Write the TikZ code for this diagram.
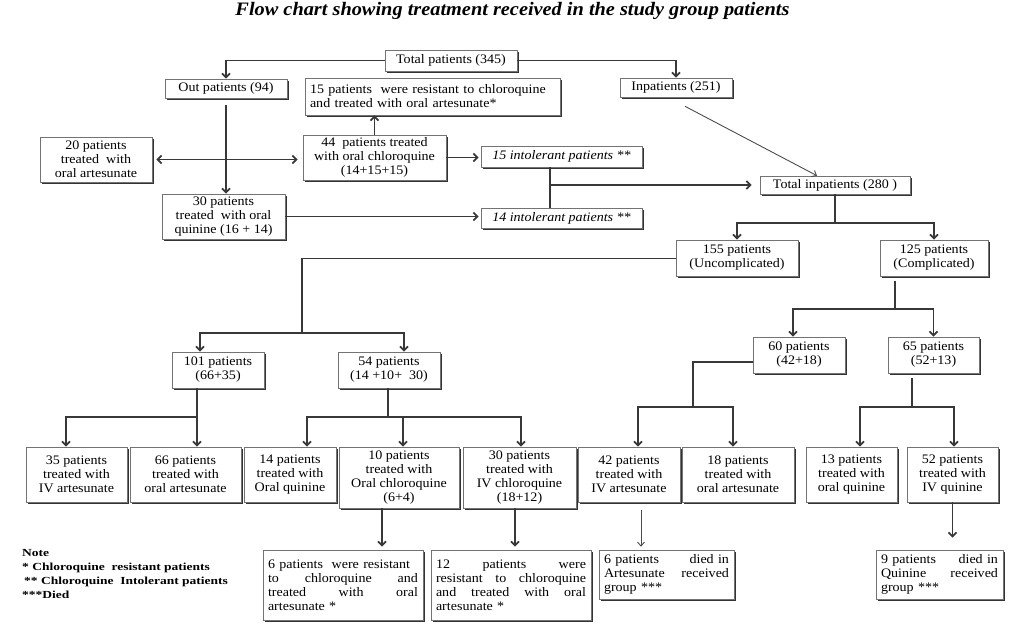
\documentclass[tikz,border=0pt]{standalone}
\usepackage{fontspec}
\setmainfont{Liberation Serif}[FakeStretch=1.08]
\newfontfamily\titlefont{Liberation Serif}[FakeStretch=1.07]
\newfontfamily\notefont{Liberation Serif}[FakeStretch=1.25]
\usetikzlibrary{arrows.meta,shadows}
\tikzset{
  box/.style={draw=black!55, line width=0.6pt, fill=white, align=center, inner sep=1pt,
    font=\fontsize{13}{14}\selectfont,
    drop shadow={shadow xshift=1.6pt, shadow yshift=-1.6pt, fill=black!80, opacity=1}},
  wh/.style 2 args={minimum width=#1pt, minimum height=#2pt},
  jbox/.style={box, align=left, inner xsep=5pt, text width=#1pt},
  conn/.style={draw=black!78, line width=1.8pt},
  arr/.style={conn, -{Straight Barb[length=4pt,width=8pt]}},
  thinarr/.style={draw=black!70, line width=0.9pt, -{Straight Barb[length=4pt,width=7pt]}},
}
\begin{document}
\begin{tikzpicture}[x=1pt,y=-1pt]
\useasboundingbox (0,0) rectangle (1023,626);
\node[anchor=base, font=\titlefont\bfseries\itshape\fontsize{19}{22}\selectfont] (title) at (512.5,16) {Flow chart showing treatment received in the study group patients};

% top level
\node[box, wh={132}{21}] (tot) at (451,60.5) {Total patients (345)};
\node[box, wh={122}{19}] (out) at (226,88.5) {Out patients (94)};
\node[jbox=245, minimum height=37pt] (res15) at (432.5,96.5) {15 patients~~were resistant to chloroquine\\and treated with oral artesunate*};
\node[box, wh={112}{19}] (inp) at (676,87.5) {Inpatients (251)};

\node[box, wh={112}{45}] (p20) at (96,159.5) {20 patients\\treated~ with\\oral artesunate};
\node[box, wh={143}{45}] (p44) at (374.5,157.5) {44~ patients treated\\with oral chloroquine\\(14+15+15)};
\node[box, wh={161}{21}, font=\fontsize{13}{14}\selectfont\itshape] (int15) at (561.5,156.5) {15 intolerant patients **};
\node[box, wh={150}{18}] (totin) at (835,185) {Total inpatients (280~)};
\node[box, wh={123}{45}] (p30) at (223.5,216.5) {30 patients\\treated~ with oral\\quinine (16 + 14)};
\node[box, wh={161}{20}, font=\fontsize{13}{14}\selectfont\itshape] (int14) at (561.5,218) {14 intolerant patients **};

\node[box, wh={122}{36}] (p155) at (737,258) {155 patients\\(Uncomplicated)};
\node[box, wh={108}{36}] (p125) at (934,258) {125 patients\\(Complicated)};
\node[box, wh={92}{36}] (p60) at (799,355) {60 patients\\(42+18)};
\node[box, wh={91}{36}] (p65) at (933.5,355) {65 patients\\(52+13)};
\node[box, wh={92}{36}] (p101) at (218,370) {101 patients\\(66+35)};
\node[box, wh={102}{36}] (p54) at (389,370) {54 patients\\(14 +10+~ 30)};

% bottom row
\node[box, wh={101}{55}] (b35) at (76.5,474.5) {35 patients\\treated with\\IV artesunate};
\node[box, wh={111}{55}] (b66) at (185.5,474.5) {66 patients\\treated with\\oral artesunate};
\node[box, wh={92}{55}] (b14) at (290,474.5) {14 patients\\treated with\\Oral quinine};
\node[box, wh={120}{61}] (b10) at (399,477.5) {10 patients\\treated with\\Oral chloroquine\\(6+4)};
\node[box, wh={113}{61}] (b30) at (519.5,477.5) {30 patients\\treated with\\IV chloroquine\\(18+12)};
\node[box, wh={102}{55}] (b42) at (629,474.5) {42 patients\\treated with\\IV artesunate};
\node[box, wh={112}{55}] (b18) at (738,474.5) {18 patients\\treated with\\oral artesunate};
\node[box, wh={91}{55}] (b13) at (851.5,474.5) {13 patients\\treated with\\oral quinine};
\node[box, wh={91}{55}] (b52) at (952.5,474.5) {52 patients\\treated with\\IV quinine};

% outcomes
\node[jbox=150, minimum height=70pt] (r6) at (343,585) {6 patients~ were resistant\\to\hfill chloroquine\hfill and\\treated\hfill with\hfill oral\\artesunate *};
\node[jbox=150, minimum height=70pt] (r12) at (511,585) {12\hfill patients\hfill were\\resistant\hfill to\hfill chloroquine\\and\hfill treated\hfill with\hfill oral\\artesunate *};
\node[jbox=125, minimum height=49pt] (d6) at (666.5,574.5) {6 patients\hfill died in\\Artesunate\hfill received\\group ***};
\node[jbox=117, minimum height=49pt] (d9) at (939.5,574.5) {9 patients\hfill died in\\Quinine\hfill received\\group ***};

\node[anchor=north west, align=left, inner sep=0pt, font=\notefont\fontsize{10.8}{14}\selectfont\bfseries] (note) at (22,549) {Note\\* Chloroquine~~resistant patients\\\hspace{2pt}** Chloroquine~~Intolerant patients\\***Died};

% connectors
\draw[arr] (tot.west) -| (out.north);
\draw[arr] (tot.east) -| (inp.north);
\coordinate (xc) at (out.south |- p20.east);
\draw[conn] ([yshift=-7pt]out.south) -- (xc);
\draw[arr] (xc) -- (xc |- p30.north);
\draw[arr, shorten >=4pt] (xc) -- (p20.east);
\draw[arr, shorten >=5pt] (xc) -- (xc -| p44.west);
\draw[arr] (p44.north) -- (p44.north |- res15.south);
\draw[arr, shorten >=2pt] (p44.east) -- (p44.east -| int15.west);
\draw[arr, shorten >=2pt] (p30.east) -- (p30.east -| int14.west);
\coordinate (jv) at ([xshift=-11.5pt]int15.south);
\draw[conn] (jv) -- (jv |- int14.north);
\draw[arr, shorten >=8pt] (jv |- totin.west) -- (totin.west);
\draw[thinarr] ([xshift=9pt,yshift=-9pt]inp.south) -- ([xshift=-18pt]totin.north);

\coordinate (tj) at ([yshift=-29pt]totin.south);
\draw[conn] (totin.south) -- (tj);
\draw[arr] (tj) -| (p155.north);
\draw[arr] (tj) -| (p125.north);

\coordinate (uj) at (302,333);
\draw[draw=black!78, line width=0.9pt] (p155.west) -- (p155.west -| uj);
\draw[conn] (p155.west -| uj) -- (uj);
\draw[arr] (uj) -| ([xshift=-18pt]p101.north);
\draw[arr] (uj) -| ([xshift=15pt]p54.north);

\coordinate (a1) at ([xshift=-21pt]p101.south);
\draw[arr] (a1) -- ++(0,29) -| ([xshift=-10.5pt]b35.north);
\draw[arr] (a1) -- (a1 |- b66.north);
\coordinate (a2) at ([xshift=-1pt]p54.south);
\draw[arr] (a2) -- ++(0,29) -| ([xshift=17pt]b14.north);
\draw[arr] (a2) -- ++(0,29) -| ([xshift=4pt]b10.north);
\draw[arr] (a2) -- ++(0,29) -| ([xshift=1.5pt]b30.north);

\coordinate (a3) at ([xshift=-39pt,yshift=-5pt]p125.south);
\draw[arr] (a3) -- ++(0,28) -| ([xshift=-6pt]p60.north);
\draw[arr] (a3) -- ++(0,28) -| (p65.north);
\coordinate (a4) at ([yshift=-7pt]p60.west);
\draw[arr] (a4) -- ++(-60,0) -- ++(0,45) -| ([xshift=9pt]b42.north);
\draw[arr] (a4) -- ++(-60,0) -- ++(0,45) -| ([xshift=-5pt]b18.north);
\coordinate (a5) at ([xshift=-21.5pt,yshift=-5pt]p65.south);
\draw[arr] (a5) -- ++(0,29) -| ([xshift=8.5pt]b13.north);
\draw[arr] (a5) -- ++(0,29) -| ([xshift=1.5pt]b52.north);

\coordinate (s1) at ([xshift=-17pt]b10.south);
\draw[arr, shorten >=3pt] (s1) -- (s1 |- r6.north);
\coordinate (s2) at ([xshift=-4.5pt]b30.south);
\draw[arr, shorten >=3pt] (s2) -- (s2 |- r12.north);
\coordinate (s3) at ([xshift=12pt,yshift=-8pt]b42.south);
\draw[thinarr, shorten >=3pt] (s3) -- (s3 |- d6.north);
\coordinate (s4) at (b52.south);
\draw[arr, shorten >=12pt] (s4) -- (s4 |- d9.north);
\end{tikzpicture}
\end{document}
